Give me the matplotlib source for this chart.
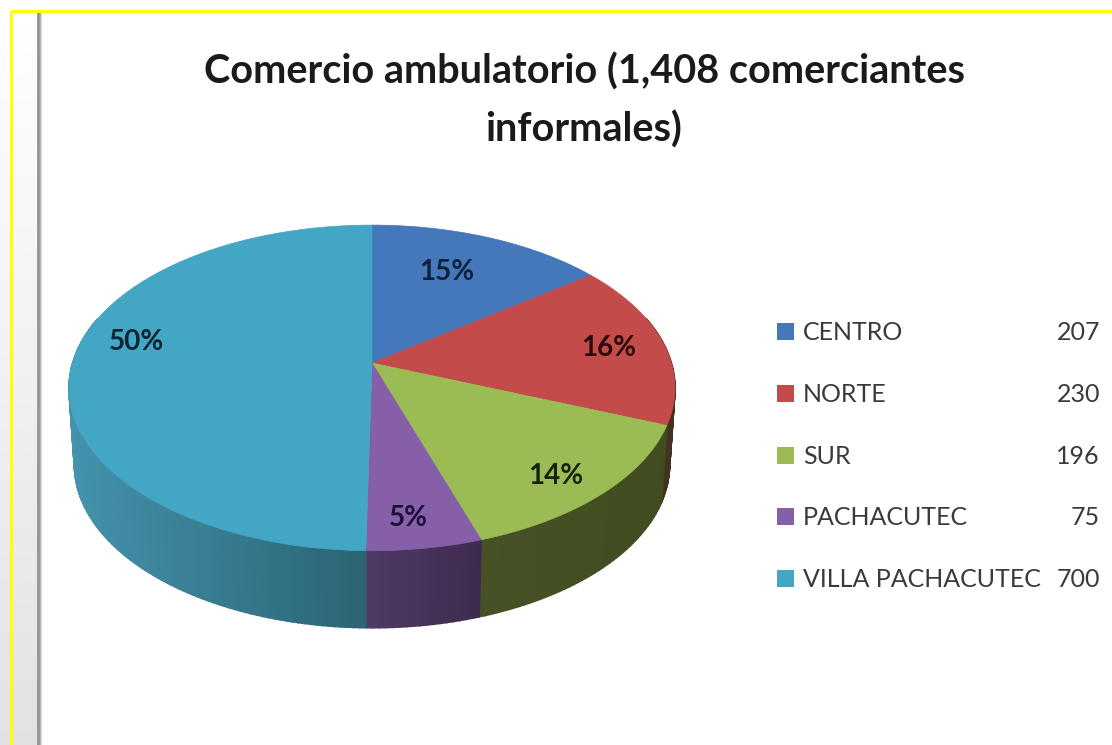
import numpy as np
import matplotlib
matplotlib.use("Agg")
import matplotlib.pyplot as plt
from matplotlib.colors import to_rgb

# ---- data ----
categories = ["CENTRO", "NORTE", "SUR", "PACHACUTEC", "VILLA PACHACUTEC"]
values = [207, 230, 196, 75, 700]
pct_labels = ["15%", "16%", "14%", "5%", "50%"]
title = "Comercio ambulatorio (1,408 comerciantes\ninformales)"

# ---- style ----
top_colors = ["#4577BB", "#C34B49", "#9BBB55", "#8560A8", "#43A6C4"]
side_left = ["#2A4A75", "#4A3020", "#465226", "#4E3A66", "#4393AD"]
side_right = ["#2A4A75", "#46301F", "#414B20", "#3F2B4E", "#2C6474"]
label_colors = ["#10203A", "#2A0A0A", "#15220A", "#1D0F3A", "#0A2530"]
label_pos = [(447, 272), (609, 348), (556, 476), (408, 518), (136, 342)]
legend_y = [331, 393, 455, 516, 578]
FONT = "Lato"

W, H = 1112, 745
CX, CY = 372, 363        # hub of the pie, pixels
A, B, K = 299.4, 159, 0.153   # perspective ellipse
DEPTH, SHRINK = 77, 0.982


def project(t, scale=1.0, dy=0.0):
    """t = clockwise angle from 12 o'clock (radians), returns pixel coords."""
    x, y = np.sin(t), np.cos(t)
    den = 1 + K * y
    return CX + scale * A * x / den, CY - B * y / den + dy


fig = plt.figure(figsize=(W / 100, H / 100), dpi=100, facecolor="white")
ax = fig.add_axes([0, 0, 1, 1])
ax.set_xlim(0, W)
ax.set_ylim(H, 0)
ax.axis("off")

# slide background strip at the left
grad = np.linspace(1.0, 0.885, 256)[:, None]
ax.imshow(grad, extent=(0, 37, H, 0), cmap="gray", vmin=0, vmax=1, aspect="auto", zorder=0)
ax.imshow(np.array([[0.62, 0.55, 0.68, 0.85]]), extent=(37, 42, H, 12), cmap="gray",
          vmin=0, vmax=1, aspect="auto", zorder=1)
ax.set_xlim(0, W)
ax.set_ylim(H, 0)
ax.plot([11, 11], [H, 11], color="#FFFF00", lw=2.2, zorder=2, solid_capstyle="butt")
ax.plot([11, W], [11, 11], color="#FFFF00", lw=2.2, zorder=2, solid_capstyle="butt")

fractions = np.array(values, dtype=float) / sum(values)
edges = np.concatenate([[0], np.cumsum(fractions)]) * 2 * np.pi

# side walls
for i in range(len(values)):
    ts = np.linspace(edges[i], edges[i + 1], max(8, int(values[i] / 4)))
    c0, c1 = np.array(to_rgb(side_left[i])), np.array(to_rgb(side_right[i]))
    for a, b in zip(ts[:-1], ts[1:]):
        if np.cos((a + b) / 2) > 0.3:
            continue
        xa, ya = project(a)
        xb, yb = project(b)
        xc, yc = project(b, SHRINK, DEPTH)
        xd, yd = project(a, SHRINK, DEPTH)
        xm = (xa + xb) / 2
        if i == 4:
            f = np.clip((xm - 69) / (365 - 69), 0, 1)
        elif i == 3:
            f = np.clip((xm - 365) / (480 - 365), 0, 1)
        else:
            f = np.clip((xm - 480) / (676 - 480), 0, 1)
        col = c0 + (c1 - c0) * f
        ax.fill([xa, xb, xc, xd], [ya, yb, yc, yd], facecolor=col, edgecolor=col,
                lw=1.2, zorder=3)

# top faces
for i in range(len(values)):
    ts = np.linspace(edges[i], edges[i + 1], 200)
    x, y = project(ts)
    ax.fill(np.r_[CX, x], np.r_[CY, y], color=top_colors[i], lw=0.5, zorder=4)

# percentage labels
for i, (px, py) in enumerate(label_pos):
    ax.text(px, py, pct_labels[i], ha="center", va="center", family=FONT, weight="bold",
            fontsize=20, color=label_colors[i], zorder=5)

# legend
for i, yy in enumerate(legend_y):
    ax.fill([777, 794, 794, 777], [yy - 8.5, yy - 8.5, yy + 8.5, yy + 8.5],
            color=top_colors[i], lw=0, zorder=5)
    ax.text(803, yy + 1.5, categories[i], ha="left", va="center", family=FONT, fontsize=18,
            color="#3A3A3A", zorder=5)
    ax.text(1100, yy + 1.5, str(values[i]), ha="right", va="center", family=FONT, fontsize=18,
            color="#3A3A3A", zorder=5)

# title
ax.text(584, 101, title, ha="center", va="center", family=FONT, weight="bold", fontsize=28.5,
        color="#1A1A1A", linespacing=1.65, zorder=5)

fig.savefig("out.png", dpi=100, facecolor="white")
